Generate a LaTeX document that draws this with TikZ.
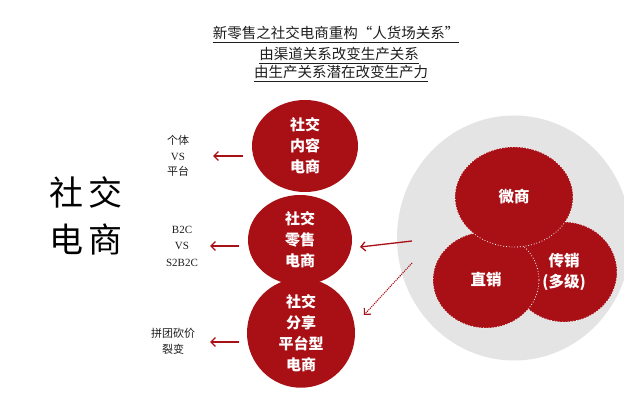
\documentclass[tikz,border=0pt]{standalone}
\usepackage{fontspec}
\setmainfont{Liberation Serif}
\newfontfamily\cjk{Noto Sans CJK SC}
\usetikzlibrary{shapes.geometric,arrows.meta}
\definecolor{myred}{RGB}{168,16,22}
\definecolor{mygray}{RGB}{228,228,228}
\definecolor{mytext}{RGB}{30,30,30}
\begin{document}
\begin{tikzpicture}[x=1pt,y=-1pt,
  redball/.style={ellipse, fill=myred, inner sep=0pt, text=white,
    font=\cjk\bfseries\fontsize{15}{21}\selectfont, align=center},
  subball/.style={ellipse, fill=myred, draw=white, dotted, line width=0.8pt,
    inner sep=0pt, text=white, font=\cjk\bfseries\fontsize{15.5}{21}\selectfont, align=center},
  lab/.style={font=\fontsize{11}{15.5}\selectfont, align=center, text=mytext},
  titl/.style={font=\cjk\fontsize{14.5}{16}\selectfont, text=mytext, inner xsep=0pt, inner ysep=2pt},
  uline/.style={draw=mytext, line width=0.6pt},
  arr/.style={draw=myred, line width=1.3pt, -{Straight Barb[length=4.5pt,width=9pt]}}
]
\useasboundingbox (0,0) rectangle (624,406);
\clip (0,0) rectangle (624,406);
\fill[white] (0,0) rectangle (624,406);

% title
\node[titl] (t1) at (336,33) {新零售之社交电商重构“人货场关系”};
\node[titl] (t2) at (339,54) {由渠道关系改变生产关系};
\node[titl] (t3) at (341,72) {由生产关系潜在改变生产力};
\draw[uline] (t1.south west) -- (t1.south east);
\draw[uline] (t2.south west) -- (t2.south east);
\draw[uline] (t3.south west) -- (t3.south east);

% big label
\node[font=\cjk\fontsize{34}{47}\selectfont, align=center, text=black] (big) at (86,216) {社\,交\\电\,商};

% left red circles
\node[redball, minimum width=106pt, minimum height=92pt] (c1) at (305,146) {社交\\内容\\电商};
\node[redball, minimum width=104pt, minimum height=90pt] (c2) at (300,240) {社交\\零售\\电商};
\node[redball, minimum width=108pt, minimum height=96pt] (c3) at (301,333) {社交\\分享\\平台型\\电商};

% side labels
\node[lab] (l1) at (178,156) {{\cjk 个体}\\VS\\{\cjk 平台}};
\node[lab, font=\fontsize{11}{16.5}\selectfont] (l2) at (182,246) {B2C\\VS\\S2B2C};
\node[lab, font=\cjk\fontsize{11}{16}\selectfont] (l3) at (173,341) {拼团砍价\\裂变};

% gray circle with three red circles
\node[ellipse, fill=mygray, minimum width=234pt, minimum height=245pt] (bg) at (514,238) {};
\node[subball, minimum width=106pt, minimum height=100pt] (chuan) at (564,272) {传销\\(多级)};
\node[subball, minimum width=106pt, minimum height=96pt] (zhi) at (486,280) {直销};
\node[subball, minimum width=118pt, minimum height=100pt] (wei) at (514,197) {微商};

% arrows
\coordinate (a1s) at (243,156); \coordinate (a1e) at (213,156);
\coordinate (a2s) at (239,246); \coordinate (a2e) at (210,246);
\coordinate (a3s) at (239,342); \coordinate (a3e) at (210,342);
\coordinate (a4s) at (412,241); \coordinate (a4e) at (360,247);
\coordinate (a5s) at (412,263); \coordinate (a5e) at (364,315);
\draw[arr] (a1s) -- (a1e);
\draw[arr] (a2s) -- (a2e);
\draw[arr] (a3s) -- (a3e);
\draw[arr] (a4s) -- (a4e);
\draw[arr, line width=1.1pt, densely dotted] (a5s) -- (a5e);
\end{tikzpicture}
\end{document}
